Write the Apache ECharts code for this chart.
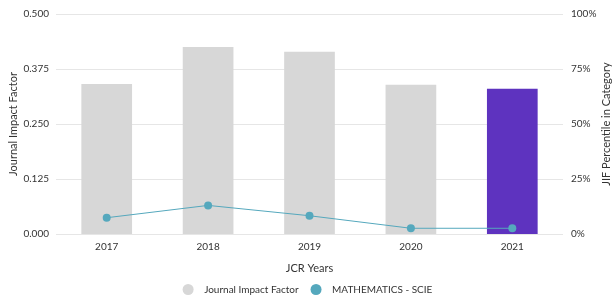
<!DOCTYPE html>
<html><head><meta charset="utf-8">
<script src="https://cdn.jsdelivr.net/npm/echarts@6/dist/echarts.min.js"></script>
<style>html,body{margin:0;padding:0;background:#fff}#c{width:615px;height:300px}</style>
</head><body><div id="c"></div>
<script>
const years = ['2017','2018','2019','2020','2021'];
const jif = [0.341, 0.425, 0.414, 0.339, 0.330];
const percentile = [7.4, 13.0, 8.3, 2.6, 2.6];
const leftTicks = [0, 0.125, 0.25, 0.375, 0.5];
const rightTicks = [0, 25, 50, 75, 100];

const FONT = 'Lato';
const chart = echarts.init(document.getElementById('c'));
chart.setOption({
  animation: false,
  textStyle: {fontFamily: FONT},
  grid: {left: 56, right: 52, top: 14, bottom: 66, containLabel: false, outerBoundsMode: 'none'},
  legend: {
    bottom: 0, left: 'center', icon: 'circle', itemWidth: 22, itemHeight: 11, itemGap: 12,
    textStyle: {fontFamily: FONT, fontSize: 10, color: '#333'},
    data: ['Journal Impact Factor', 'MATHEMATICS - SCIE']
  },
  xAxis: {
    type: 'category', data: years,
    name: 'JCR Years', nameLocation: 'middle', nameGap: 29, nameMoveOverlap: false,
    nameTextStyle: {fontFamily: FONT, fontSize: 11, color: '#333'},
    axisLine: {show: false}, axisTick: {show: false},
    axisLabel: {fontFamily: FONT, fontSize: 10, color: '#333', margin: 8}
  },
  yAxis: [{
    type: 'value', min: leftTicks[0], max: leftTicks[leftTicks.length-1], interval: 0.125,
    name: 'Journal Impact Factor', nameLocation: 'middle', nameGap: 37, nameMoveOverlap: false,
    nameTextStyle: {fontFamily: FONT, fontSize: 11, color: '#333'},
    axisLine: {show: false}, axisTick: {show: false},
    axisLabel: {fontFamily: FONT, fontSize: 10, color: '#333', margin: 7, formatter: v => v.toFixed(3)},
    splitLine: {lineStyle: {color: '#e6e6e6', width: 1}}
  }, {
    type: 'value', min: rightTicks[0], max: rightTicks[rightTicks.length-1], interval: 25,
    name: 'JIF Percentile in Category', nameLocation: 'middle', nameGap: 38, nameMoveOverlap: false,
    nameTextStyle: {fontFamily: FONT, fontSize: 11, color: '#333'},
    axisLine: {show: false}, axisTick: {show: false},
    axisLabel: {fontFamily: FONT, fontSize: 10, color: '#333', margin: 8, formatter: v => v + '%'},
    splitLine: {show: false}
  }],
  series: [{
    name: 'Journal Impact Factor', type: 'bar', yAxisIndex: 0, barWidth: '50%',
    itemStyle: {color: '#d7d7d7'},
    data: jif.map((v, i) => i === jif.length - 1 ? {value: v, itemStyle: {color: '#5e33bf'}} : v)
  }, {
    name: 'MATHEMATICS - SCIE', type: 'line', yAxisIndex: 1,
    symbol: 'circle', symbolSize: 8,
    lineStyle: {color: '#55a8bd', width: 1},
    itemStyle: {color: '#55a8bd'},
    data: percentile
  }]
});
</script></body></html>
